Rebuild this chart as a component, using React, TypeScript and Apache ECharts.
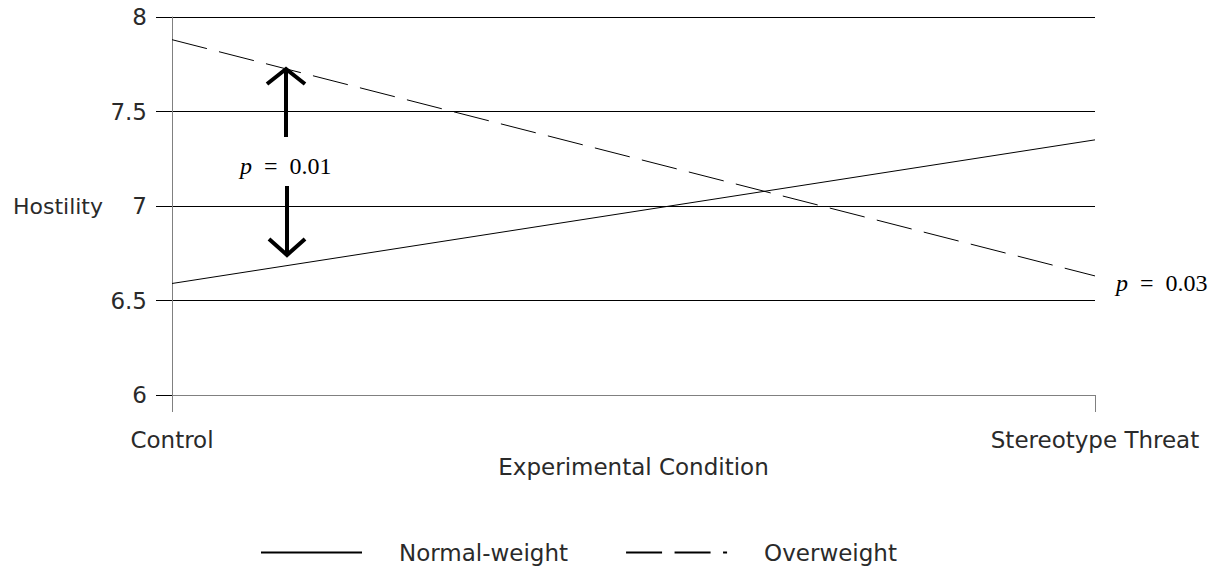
import React, { useEffect, useRef } from "react";
import * as echarts from "echarts";

const categories = ["Control", "Stereotype Threat"];
const normalWeight = [6.59, 7.35];
const overweight = [7.88, 6.63];
const seriesNames = ["Normal-weight", "Overweight"];
const yMin = 6;
const yMax = 8;
const yInterval = 0.5;
const xAxisTitle = "Experimental Condition";
const yAxisTitle = "Hostility";
const leftNote = "0.01";
const rightNote = "0.03";

const SANS = "DejaVu Sans";
const SERIF = "Liberation Serif";
const TEXT = "#2a2a2a";

export default function App() {
  const ref = useRef<HTMLDivElement>(null);
  useEffect(() => {
    if (!ref.current) return;
    const chart = echarts.init(ref.current, undefined, { renderer: "svg" });
    const noteStyle = (txt: string, x: number, y: number) => ({
      type: "text",
      style: {
        text: "{i|p}  =  " + txt,
        x,
        y,
        fontFamily: SERIF,
        fontSize: 24,
        fill: "#000",
        verticalAlign: "middle",
        rich: {
          i: { fontFamily: SERIF, fontSize: 24, fontStyle: "italic", fill: "#000" },
        },
      },
    });
    chart.setOption({
      animation: false,
      grid: { left: 172, right: 123, top: 17, bottom: 179, containLabel: false },
      legend: {
        left: 255,
        top: 536,
        itemWidth: 101,
        itemHeight: 14,
        itemGap: 57,
        itemStyle: { opacity: 0 },
        textStyle: {
          fontFamily: SANS,
          fontSize: 23,
          color: TEXT,
          padding: [0, 0, 0, 32],
        },
        data: seriesNames,
      },
      xAxis: {
        type: "category",
        data: categories,
        boundaryGap: false,
        name: xAxisTitle,
        nameLocation: "middle",
        nameGap: 60,
        nameTextStyle: { fontFamily: SANS, fontSize: 23, color: TEXT },
        axisLine: { lineStyle: { color: "#808080", width: 1 } },
        axisTick: { show: true, length: 17, lineStyle: { color: "#808080" } },
        axisLabel: {
          fontFamily: SANS,
          fontSize: 23,
          color: TEXT,
          margin: 33,
          interval: 0,
        },
        splitLine: { show: false },
      },
      yAxis: {
        type: "value",
        min: yMin,
        max: yMax,
        interval: yInterval,
        name: yAxisTitle,
        nameLocation: "middle",
        nameRotate: 0,
        nameGap: 69,
        nameTextStyle: { fontFamily: SANS, fontSize: 22, color: TEXT },
        axisLine: { show: true, lineStyle: { color: "#808080", width: 1 } },
        axisTick: { show: true, length: 16, lineStyle: { color: "#000" } },
        axisLabel: {
          fontFamily: SANS,
          fontSize: 23,
          color: TEXT,
          margin: 25,
        },
        splitLine: { show: true, lineStyle: { color: "#000", width: 1 } },
      },
      series: [
        {
          name: seriesNames[0],
          type: "line",
          data: normalWeight,
          symbol: "none",
          showSymbol: false,
          lineStyle: { color: "#000", width: 1, type: "solid" },
          itemStyle: { color: "#000" },
        },
        {
          name: seriesNames[1],
          type: "line",
          data: overweight,
          symbol: "none",
          showSymbol: false,
          lineStyle: { color: "#000", width: 1, type: [36, 12.5] },
          itemStyle: { color: "#000" },
        },
      ],
      graphic: [
        {
          type: "line",
          shape: { x1: 286, y1: 137, x2: 286, y2: 71 },
          style: { stroke: "#000", lineWidth: 4 },
        },
        {
          type: "polyline",
          shape: { points: [[267, 84], [286, 69], [305, 84]] },
          style: { stroke: "#000", lineWidth: 4, fill: null },
        },
        {
          type: "line",
          shape: { x1: 287, y1: 186, x2: 287, y2: 253 },
          style: { stroke: "#000", lineWidth: 4 },
        },
        {
          type: "polyline",
          shape: { points: [[269, 239], [287, 255], [305, 239]] },
          style: { stroke: "#000", lineWidth: 4, fill: null },
        },
        noteStyle(leftNote, 240, 166),
        noteStyle(rightNote, 1116, 283),
      ],
    });
    return () => chart.dispose();
  }, []);
  return (
    <div
      ref={ref}
      style={{ position: "fixed", left: 0, top: 0, width: 1218, height: 574, background: "#fff" }}
    />
  );
}
